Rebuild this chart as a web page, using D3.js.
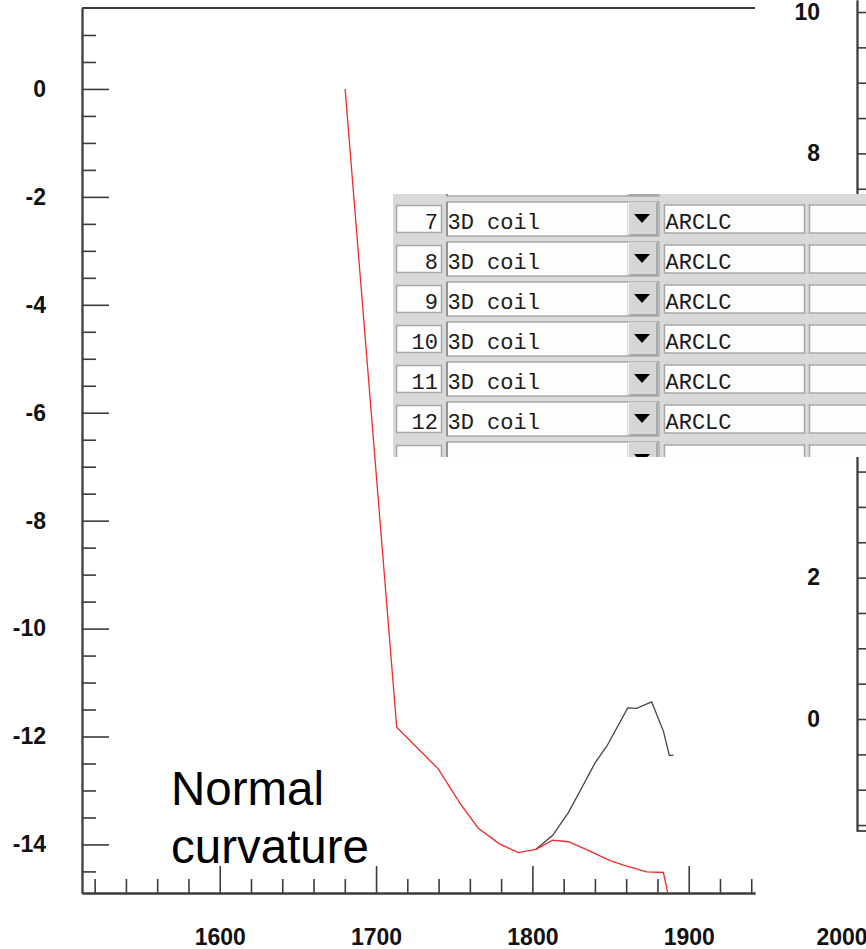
<!DOCTYPE html>
<html><head><meta charset="utf-8">
<script src="https://cdn.jsdelivr.net/npm/d3@7"></script>
<style>body{margin:0;background:#fff}svg{display:block}</style>
</head><body>
<script>
// ---- data ----
const redX=[1680.2,1713.2,1739.8,1753.7,1765.4,1778.9,1791.0,1802.3,1813.0,1823.0,1835.8,1849.7,1860.3,1873.1,1883.8,1889.5];
const redY=[0,-11.83,-12.60,-13.24,-13.70,-13.99,-14.15,-14.09,-13.92,-13.95,-14.11,-14.30,-14.40,-14.51,-14.52,-15.3];
const blackX=[1802.3,1813.0,1823.0,1831.6,1840.1,1847.6,1861.0,1866.7,1876.3,1883.8,1887.6,1890.2];
const blackY=[-14.09,-13.83,-13.41,-12.95,-12.49,-12.18,-11.47,-11.48,-11.36,-11.90,-12.35,-12.35];
const xTicks=[1600,1700,1800,1900];
const xExtraLabels=[2000];
const yTicks=[-14,-12,-10,-8,-6,-4,-2,0];
const rightTicks=[0,2,4,6,8,10];
const tableRows=[7,8,9,10,11,12];
const tableType="3D coil";
const tableCode="ARCLC";
const annotation=["Normal","curvature"];

// ---- layout ----
const W=866,H=949;
const svg=d3.select("body").append("svg").attr("width",W).attr("height",H);
const x=d3.scaleLinear().domain([1511.9,1942.4]).range([82,755]);
const y=d3.scaleLinear().domain([1.5,-14.9]).range([8,893]);
const yR=d3.scaleLinear().domain([10.17,-1.584]).range([0,831]);
const axisCol="#3c3c3c";
const labelFont="'Liberation Sans', Arial, sans-serif";
const fmt=d=>String(d);

function styleAxis(g){
  g.selectAll("path.domain").attr("stroke",axisCol).attr("stroke-width",1.8);
  g.selectAll(".tick line").attr("stroke",axisCol).attr("stroke-width",1.6);
  g.selectAll(".tick text").attr("fill","#111").style("font-family",labelFont)
    .style("font-size","23px").style("font-weight","bold");
}

svg.append("clipPath").attr("id","plotclip").append("rect")
  .attr("x",82).attr("y",8).attr("width",673).attr("height",885);

// left plot frame top
svg.append("line").attr("x1",82).attr("x2",755).attr("y1",8).attr("y2",8)
  .attr("stroke",axisCol).attr("stroke-width",1.8);

// minor ticks
const xMinor=d3.range(1520,1941,20).filter(v=>v%100!==0);
const yMinor=d3.range(-14.5,1.01,0.5).filter(v=>v%2!==0);
const gxm=svg.append("g").attr("transform","translate(0,893)")
  .call(d3.axisBottom(x).tickValues(xMinor).tickSizeInner(-14).tickSizeOuter(0).tickFormat(""));
styleAxis(gxm);
const gym=svg.append("g").attr("transform","translate(82,0)")
  .call(d3.axisLeft(y).tickValues(yMinor).tickSizeInner(-14).tickSizeOuter(0).tickFormat(""));
styleAxis(gym);

// major axes
const gx=svg.append("g").attr("transform","translate(0,893)")
  .call(d3.axisBottom(x).tickValues(xTicks).tickSizeInner(-27).tickSizeOuter(0).tickPadding(36).tickFormat(fmt));
styleAxis(gx);
const gy=svg.append("g").attr("transform","translate(82,0)")
  .call(d3.axisLeft(y).tickValues(yTicks).tickSizeInner(-27).tickSizeOuter(0).tickPadding(36).tickFormat(fmt));
styleAxis(gy);

// extra x label (2000) beyond plot, partly cut by the edge as in the reference
svg.selectAll("text.xextra").data(xExtraLabels).enter().append("text")
  .attr("class","xextra").attr("x",d=>x(d)-3).attr("y",893+36).attr("dy","0.71em")
  .attr("text-anchor","middle").attr("fill","#111")
  .style("font-family",labelFont).style("font-size","23px").style("font-weight","bold")
  .text(d=>d);

// right plot axis
const rMinor=d3.range(-1.5,10.01,0.5).filter(v=>v%2!==0);
const grm=svg.append("g").attr("transform","translate(857,0)")
  .call(d3.axisLeft(yR).tickValues(rMinor).tickSizeInner(-14).tickSizeOuter(0).tickFormat(""));
styleAxis(grm);
const gr=svg.append("g").attr("transform","translate(857,0)")
  .call(d3.axisLeft(yR).tickValues(rightTicks).tickSizeInner(-27).tickSizeOuter(0).tickPadding(37).tickFormat(fmt));
styleAxis(gr);
svg.append("line").attr("x1",857).attr("x2",870).attr("y1",yR(-1.584)).attr("y2",yR(-1.584))
  .attr("stroke",axisCol).attr("stroke-width",1.8);

// curves
const line=d3.line().x(d=>x(d[0])).y(d=>y(d[1]));
const plot=svg.append("g").attr("clip-path","url(#plotclip)");
plot.append("path").datum(d3.zip(blackX,blackY)).attr("d",line)
  .attr("fill","none").attr("stroke","#444").attr("stroke-width",1.3);
plot.append("path").datum(d3.zip(redX,redY)).attr("d",line)
  .attr("fill","none").attr("stroke","#f22a2a").attr("stroke-width",1.3);

// annotation
svg.append("text").attr("x",171).attr("y",805).attr("fill","#000")
  .style("font-family",labelFont).style("font-size","47.5px")
  .selectAll("tspan").data(annotation).enter().append("tspan")
  .attr("x",171).attr("dy",(d,i)=>i?58:0).text(d=>d);

// ---- table overlay ----
const tX0=393,tY0=194,tX1=866,tY1=457,pitch=40,row0=219;
svg.append("clipPath").attr("id","tclip").append("rect")
  .attr("x",tX0).attr("y",tY0).attr("width",tX1-tX0).attr("height",tY1-tY0);
const tg=svg.append("g").attr("clip-path","url(#tclip)");
tg.append("rect").attr("x",tX0).attr("y",tY0).attr("width",tX1-tX0).attr("height",tY1-tY0).attr("fill","#d9d9d9");
const mono="'Liberation Mono', 'DejaVu Sans Mono', monospace";
const allRows=[6].concat(tableRows,[13]);
allRows.forEach((n,i)=>{
  const c=row0+(i-1)*pitch;
  const show=tableRows.includes(n);
  const g=tg.append("g");
  g.append("rect").attr("x",396.5).attr("y",c-13.5).attr("width",45).attr("height",27)
    .attr("fill","#fdfdfd").attr("stroke","#a8a8a8").attr("stroke-width",1.5);
  g.append("rect").attr("x",447).attr("y",c-17).attr("width",212).attr("height",34)
    .attr("fill","#fdfdfd").attr("stroke","#a8a8a8").attr("stroke-width",1.5);
  g.append("line").attr("x1",447).attr("x2",447).attr("y1",c-17).attr("y2",c+17)
    .attr("stroke","#8a8a8a").attr("stroke-width",1.5);
  g.append("rect").attr("x",628).attr("y",c-16).attr("width",29).attr("height",32)
    .attr("fill","#d6d6d6").attr("stroke","#b4b4b4").attr("stroke-width",1);
  g.append("path").attr("d",`M${628.5},${c+16}V${c-16}H${657}`).attr("fill","none").attr("stroke","#f2f2f2").attr("stroke-width",1.2);
  g.append("path").attr("d",`M${628.5},${c+16}H${657}V${c-16}`).attr("fill","none").attr("stroke","#909090").attr("stroke-width",1.2);
  g.append("path").attr("d",`M${634},${c-5}L${650},${c-5}L${642},${c+4}Z`).attr("fill","#000");
  g.append("rect").attr("x",664.5).attr("y",c-14).attr("width",140).attr("height",28)
    .attr("fill","#fdfdfd").attr("stroke","#a8a8a8").attr("stroke-width",1.5);
  g.append("rect").attr("x",809.5).attr("y",c-14).attr("width",70).attr("height",28)
    .attr("fill","#fdfdfd").attr("stroke","#a8a8a8").attr("stroke-width",1.5);
  if(show){
    const ts=g.append("g").style("font-family",mono).style("font-size","22px").attr("fill","#1a1a1a");
    ts.append("text").attr("x",438).attr("y",c+10).attr("text-anchor","end").text(n);
    ts.append("text").attr("x",447.5).attr("y",c+10).text(tableType);
    ts.append("text").attr("x",665.5).attr("y",c+10).text(tableCode);
  }
});
</script>
</body></html>
